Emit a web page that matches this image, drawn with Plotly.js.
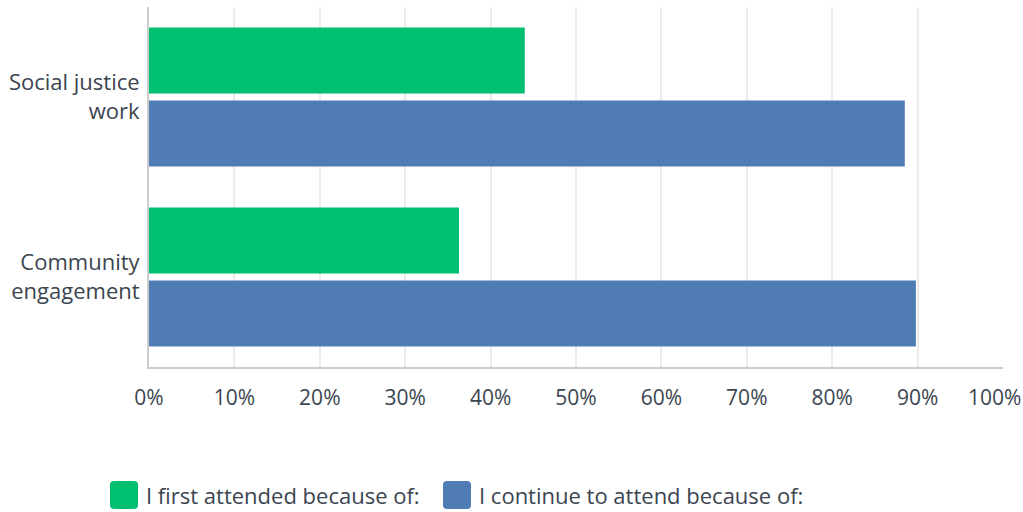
<!DOCTYPE html>
<html><head><meta charset="utf-8">
<script src="https://cdn.plot.ly/plotly-3.0.1.min.js"></script>
<style>body{margin:0;background:#fff}#c{width:1023px;height:512px}</style>
</head><body><div id="c"></div>
<script>
const categories = ["Community<br>engagement", "Social justice<br>work"];
const seriesNames = ["I first attended because of:", "I continue to attend because of:"];
const firstAttended = [36.3, 44.0];
const continueAttend = [89.8, 88.5];
const tickVals = [0,10,20,30,40,50,60,70,80,90,100];
const tickText = ["0%","10%","20%","30%","40%","50%","60%","70%","80%","90%","100%"];
const colors = ["#00bf6f", "#507cb6"];
const FONT = "Open Sans, sans-serif";
const TXT = "#3b4550";

const traces = [
  {type:"bar", orientation:"h", name:seriesNames[1], y:categories, x:continueAttend, marker:{color:colors[1]}, hoverinfo:"x+name"},
  {type:"bar", orientation:"h", name:seriesNames[0], y:categories, x:firstAttended, marker:{color:colors[0]}, hoverinfo:"x+name"}
];

const W = 1023, H = 512, ml = 149, mr = 20, mt = 7, mb = 145;
const pw = W - ml - mr, ph = H - mt - mb;
function px2x(p){return (p-ml)/pw;}
function py2y(p){return (H-mb-p)/ph;}
function roundRect(x0,y0,x1,y1,r){
  const X=px2x, Y=py2y;
  return `M${X(x0+r)},${Y(y0)} L${X(x1-r)},${Y(y0)} Q${X(x1)},${Y(y0)} ${X(x1)},${Y(y0+r)} L${X(x1)},${Y(y1-r)} Q${X(x1)},${Y(y1)} ${X(x1-r)},${Y(y1)} L${X(x0+r)},${Y(y1)} Q${X(x0)},${Y(y1)} ${X(x0)},${Y(y1-r)} L${X(x0)},${Y(y0+r)} Q${X(x0)},${Y(y0)} ${X(x0+r)},${Y(y0)} Z`;
}
// the last tick label is drawn as an annotation pulled left (as in the reference) so it stays inside the page
const last = tickText.length-1;
const tickTextShown = tickText.map((t,i)=> i===last ? "" : t);

const shapes = [];
const annotations = [];
const legendX = [110, 443];
seriesNames.forEach((n,i)=>{
  const x0=legendX[i], x1=x0+28, y0=481, y1=509;
  shapes.push({type:"path", xref:"paper", yref:"paper", path:roundRect(x0,y0,x1,y1,4), fillcolor:colors[i], line:{width:0}, layer:"above"});
  annotations.push({xref:"paper", yref:"paper", x:px2x(x1+6), y:py2y(495), xanchor:"left", yanchor:"middle", text:n, showarrow:false, font:{family:FONT, size:22, color:TXT}});
});
annotations.push({xref:"x", yref:"paper", x:tickVals[last], y:py2y(397), xanchor:"center", yanchor:"middle", xshift:-9,
  text:tickText[last], showarrow:false, font:{family:FONT, size:21, color:TXT}});

const layout = {
  width:W, height:H,
  margin:{l:ml, r:mr, t:mt, b:mb, pad:0},
  paper_bgcolor:"#fff", plot_bgcolor:"#fff",
  barmode:"group", bargap:0.19, bargroupgap:0.096,
  showlegend:false,
  font:{family:FONT, color:TXT, size:21},
  xaxis:{range:[0,100], tickvals:tickVals, ticktext:tickTextShown, showgrid:true, gridcolor:"#ebebeb", gridwidth:2,
    zeroline:false, showline:true, linecolor:"#cccccc", linewidth:2, ticks:"", ticklen:0, tickfont:{size:21, color:TXT},
    ticklabelstandoff:11, ticklabeloverflow:"allow", automargin:false, fixedrange:true},
  yaxis:{showline:true, linecolor:"#cccccc", linewidth:2, ticks:"", tickfont:{size:22, color:TXT}, automargin:false, ticklabelstandoff:3, fixedrange:true},
  shapes:shapes, annotations:annotations
};
Plotly.newPlot("c", traces, layout, {displayModeBar:false, staticPlot:true});
</script></body></html>
